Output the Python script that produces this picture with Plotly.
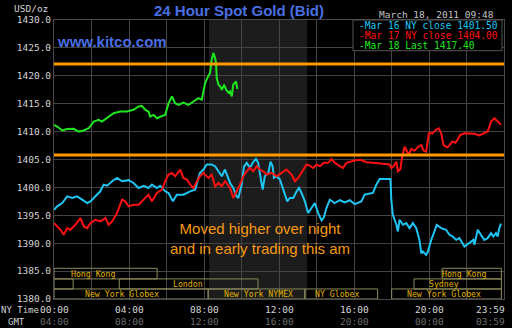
import plotly.graph_objects as go

# ---------------- data (hours NY time, USD/oz) ----------------
mar16_hours = [0, 0.17, 0.44, 0.70, 0.97, 1.23, 1.50, 1.77, 1.94, 2.21, 2.47, 2.65, 2.83, 3.10, 3.36, 3.63,
               3.98, 4.24, 4.51, 4.78, 5.04, 5.22, 5.49, 5.66, 5.93, 6.11, 6.34, 6.55, 6.90, 7.26, 7.53, 7.70,
               7.79, 7.97, 8.15, 8.41, 8.59, 8.77, 8.95, 9.12, 9.30, 9.39, 9.56, 9.74, 9.83, 10.01, 10.13, 10.28,
               10.45, 10.63, 10.77, 10.89, 11.02, 11.13, 11.24, 11.43, 11.55, 11.66, 11.73, 11.87, 12.05, 12.19,
               12.31, 12.44, 12.58, 12.76, 12.94, 13.07, 13.20, 13.38, 13.55, 13.73, 13.91, 14.09, 14.27, 14.39,
               14.53, 14.71, 14.97, 15.24, 15.51, 15.77, 16.04, 16.39, 16.57, 16.84, 17.01, 17.19, 17.37, 17.72,
               17.94, 17.99, 18.07, 18.26, 18.34, 18.43, 18.61, 18.79, 18.96, 19.14, 19.32, 19.49, 19.59, 19.67,
               19.85, 19.94, 20.12, 20.29, 20.41, 20.65, 20.91, 21.09, 21.27, 21.45, 21.62, 21.89, 22.15, 22.37,
               22.42, 22.60, 22.77, 22.95, 23.13, 23.31, 23.43, 23.57, 23.66, 23.75, 23.84]
mar16_values = [1396.0, 1396.6, 1397.2, 1398.4, 1398.1, 1398.4, 1397.8, 1397.2, 1397.5, 1398.4, 1399.3, 1400.5,
                1400.3, 1401.1, 1401.7, 1401.1, 1401.3, 1400.8, 1399.9, 1400.3, 1399.9, 1400.5, 1399.9, 1400.3,
                1399.3, 1399.0, 1397.5, 1398.7, 1398.7, 1399.3, 1399.6, 1401.7, 1402.6, 1403.2, 1404.1, 1404.1,
                1403.8, 1402.9, 1402.0, 1403.2, 1401.7, 1400.8, 1399.9, 1398.4, 1398.1, 1400.5, 1403.7, 1404.4,
                1403.5, 1404.6, 1405.1, 1404.4, 1401.7, 1399.6, 1402.0, 1402.6, 1404.6, 1403.8, 1401.7, 1402.0,
                1401.4, 1399.9, 1399.0, 1397.5, 1398.1, 1398.1, 1399.3, 1399.9, 1399.0, 1397.5, 1395.4, 1396.3,
                1397.2, 1395.4, 1394.1, 1394.6, 1396.3, 1397.8, 1397.2, 1397.7, 1397.3, 1397.7, 1397.0, 1397.5,
                1398.7, 1398.9, 1399.0, 1400.5, 1401.5, 1401.5, 1401.5, 1397.8, 1395.1, 1393.3, 1392.1, 1394.2,
                1393.3, 1393.6, 1392.7, 1393.6, 1392.7, 1390.6, 1388.2, 1388.5, 1387.9, 1388.5, 1390.6, 1392.1,
                1393.3, 1392.7, 1392.4, 1391.5, 1391.2, 1390.6, 1390.9, 1389.4, 1390.0, 1390.6, 1389.7, 1392.4,
                1391.5, 1390.6, 1390.9, 1391.8, 1391.2, 1391.8, 1391.2, 1392.7, 1393.5]

mar17_hours = [0, 0.17, 0.35, 0.52, 0.70, 0.88, 1.14, 1.41, 1.59, 1.77, 1.94, 2.21, 2.47, 2.74, 2.91, 3.10, 3.36,
               3.63, 3.80, 3.98, 4.24, 4.51, 4.78, 5.04, 5.22, 5.49, 5.76, 5.93, 6.11, 6.29, 6.46, 6.73, 6.90, 7.09,
               7.26, 7.44, 7.62, 7.79, 7.97, 8.23, 8.41, 8.59, 8.77, 8.95, 9.12, 9.39, 9.56, 9.74, 9.92, 10.10,
               10.28, 10.45, 10.63, 10.81, 10.98, 11.16, 11.34, 11.61, 11.87, 12.14, 12.40, 12.67, 12.85, 13.02,
               13.20, 13.47, 13.64, 13.82, 14.00, 14.18, 14.39, 14.62, 14.80, 14.97, 15.24, 15.41, 15.60, 15.86,
               16.13, 16.39, 16.66, 17.01, 17.37, 17.72, 17.90, 17.99, 18.11, 18.26, 18.34, 18.47, 18.57, 18.70,
               18.79, 18.93, 19.05, 19.23, 19.40, 19.59, 19.71, 19.85, 19.99, 20.20, 20.35, 20.52, 20.65, 20.77,
               20.95, 21.09, 21.23, 21.41, 21.53, 21.66, 21.89, 22.15, 22.42, 22.68, 22.95, 23.13, 23.31, 23.49,
               23.66, 23.84]
mar17_values = [1393.6, 1393.0, 1392.4, 1391.5, 1392.7, 1392.4, 1393.3, 1394.5, 1393.0, 1392.7, 1393.6, 1394.2,
                1393.9, 1394.5, 1393.3, 1393.9, 1395.4, 1397.8, 1397.5, 1396.6, 1396.9, 1396.9, 1397.8, 1398.7,
                1397.5, 1399.0, 1399.6, 1401.1, 1402.3, 1402.6, 1402.0, 1403.2, 1401.7, 1401.4, 1400.5, 1399.9,
                1401.1, 1402.0, 1402.6, 1401.7, 1402.3, 1400.2, 1400.8, 1400.2, 1401.1, 1399.9, 1398.1, 1399.3,
                1400.5, 1402.0, 1402.9, 1403.5, 1402.9, 1403.8, 1403.2, 1402.9, 1402.3, 1402.6, 1402.0, 1402.6,
                1403.2, 1402.3, 1401.1, 1401.7, 1402.6, 1404.1, 1403.9, 1403.5, 1404.1, 1403.8, 1404.4, 1404.4,
                1405.1, 1404.4, 1403.8, 1403.5, 1404.4, 1404.7, 1404.9, 1404.9, 1404.5, 1404.4, 1404.3, 1404.2,
                1404.1, 1403.5, 1403.8, 1404.6, 1402.9, 1403.2, 1405.5, 1407.3, 1406.6, 1405.8, 1406.9, 1406.6,
                1407.2, 1407.6, 1406.6, 1406.4, 1409.7, 1409.7, 1410.3, 1410.6, 1409.7, 1407.6, 1407.2, 1407.5,
                1408.2, 1408.0, 1408.6, 1409.4, 1409.7, 1409.6, 1409.6, 1409.3, 1409.7, 1410.0, 1411.8, 1412.4,
                1411.8, 1411.2]

mar18_hours = [0, 0.17, 0.44, 0.70, 1.05, 1.32, 1.59, 1.85, 2.12, 2.38, 2.56, 2.83, 3.18, 3.54, 3.89, 4.24, 4.51,
               4.69, 4.87, 5.04, 5.13, 5.31, 5.49, 5.76, 5.93, 6.11, 6.29, 6.46, 6.64, 6.90, 7.17, 7.44, 7.70, 7.88,
               8.06, 8.15, 8.32, 8.41, 8.50, 8.59, 8.64, 8.68, 8.77, 8.86, 8.95, 9.07, 9.18, 9.30, 9.39, 9.48, 9.56,
               9.71, 9.78]
mar18_values = [1411.2, 1410.9, 1410.2, 1410.45, 1410.5, 1410.0, 1410.2, 1410.6, 1411.8, 1412.1, 1411.8, 1412.4,
                1413.3, 1413.6, 1413.6, 1413.9, 1414.5, 1414.6, 1413.9, 1413.6, 1412.7, 1413.0, 1412.4, 1412.8,
                1413.0, 1415.1, 1416.3, 1415.1, 1414.8, 1415.2, 1414.8, 1415.4, 1416.0, 1415.7, 1418.7, 1419.4,
                1420.5, 1422.9, 1424.1, 1423.2, 1422.3, 1419.6, 1418.4, 1418.1, 1417.5, 1418.4, 1417.5, 1417.0,
                1417.2, 1416.3, 1418.4, 1419.0, 1417.6]

series_names = ["Mar 16 NY close 1401.50", "Mar 17 NY close 1404.00", "Mar 18 Last 1417.40"]
series_colors = ["#1ec4f2", "#ff1010", "#1ee61e"]

support_levels = [1422.1, 1405.8]          # hand-drawn orange lines
shaded_hours = [8.27, 13.5]                # highlighted trading window

ny_ticks = [0, 4, 8, 12, 16, 20, 24]
ny_labels = ["00:00", "04:00", "08:00", "12:00", "16:00", "20:00", "23:59"]
gmt_labels = ["04:00", "08:00", "12:00", "16:00", "20:00", "00:00", "03:59"]
y_ticks = [1380, 1385, 1390, 1395, 1400, 1405, 1410, 1415, 1420, 1425, 1430]

# sessions: name, row (1 = top), start hour, end hour, label centre hour
sess_names = ["Hong Kong", "", "London", "New York Globex", "New York NYMEX", "NY Globex",
              "New York Globex", "Hong Kong", "Sydney"]
sess_rows = [1, 2, 2, 3, 3, 3, 3, 1, 2]
sess_start = [0, 0, 3.48, 0, 8.22, 13.38, 18.01, 20.7, 19.2]
sess_end = [5.5, 1.02, 10.88, 8.22, 13.38, 17.26, 23.86, 23.86, 23.86]
sess_label = [2.1, 0.5, 7.13, 3.64, 10.88, 15.08, 20.82, 21.89, 20.82]
row_bounds = {1: (1383.6, 1385.5), 2: (1381.8, 1383.6), 3: (1380.0, 1381.8)}

# ---------------- figure ----------------
L, R, T, B, W, H = 54, 8, 20, 29, 512, 328
PW, PH = W - L - R, H - T - B


def px(x):
    return (x - L) / PW


def py(y):
    return (H - B - y) / PH


MONO = "DejaVu Sans Mono"
fig = go.Figure()
for hrs, vals, name, col in zip([mar16_hours, mar17_hours, mar18_hours],
                                [mar16_values, mar17_values, mar18_values],
                                series_names, series_colors):
    fig.add_trace(go.Scatter(x=hrs, y=vals, mode="lines", name=name,
                             line=dict(color=col, width=2), hoverinfo="skip"))

shapes = []
shapes.append(dict(type="rect", xref="x", yref="paper", x0=shaded_hours[0], x1=shaded_hours[1],
                   y0=0, y1=1, fillcolor="#1b1c1b", line=dict(width=0), layer="below"))
for lvl in support_levels:
    shapes.append(dict(type="line", xref="x", yref="y", x0=0, x1=24.1, y0=lvl, y1=lvl,
                       line=dict(color="#ff9a00", width=3), layer="above"))

annotations = []
for name, row, s, e, lab in zip(sess_names, sess_rows, sess_start, sess_end, sess_label):
    y0, y1 = row_bounds[row]
    shapes.append(dict(type="rect", xref="x", yref="y", x0=s, x1=e, y0=y0, y1=y1,
                       line=dict(color="#8c8a5c", width=1), fillcolor="rgba(0,0,0,0)", layer="above"))
    if name:
        annotations.append(dict(x=lab, y=(y0 + y1) / 2, xref="x", yref="y", text=name, showarrow=False,
                                font=dict(family=MONO, size=8.2, color="#e0b400"),
                                xanchor="center", yanchor="middle"))

# legend box
shapes.append(dict(type="rect", xref="paper", yref="paper", x0=px(353), x1=px(502), y0=py(50.7), y1=py(20),
                   fillcolor="#000000", line=dict(color="#555555", width=1), layer="above"))
for i, (name, col) in enumerate(zip(series_names, series_colors)):
    annotations.append(dict(x=px(357), y=py([25.7, 35.5, 45.5][i]), xref="paper", yref="paper",
                            text="-" + name, showarrow=False, xanchor="left", yanchor="middle",
                            font=dict(family=MONO, size=9.6, color=col)))

# x labels (placed in paper space so the last one may sit past the axis end)
for t, a, b in zip(ny_ticks, ny_labels, gmt_labels):
    xa = "center"
    xx = px(L + t * PW / 24)
    if t >= 24:
        xa = "right"
        xx = px(507)
    annotations.append(dict(x=xx, y=py(309.5), xref="paper", yref="paper", text=a, showarrow=False,
                            xanchor=xa, yanchor="middle", font=dict(family=MONO, size=9.5, color="#d4d4d4")))
    annotations.append(dict(x=xx, y=py(321.5), xref="paper", yref="paper", text=b, showarrow=False,
                            xanchor=xa, yanchor="middle", font=dict(family=MONO, size=9.5, color="#6e6e6e")))
annotations.append(dict(x=px(20), y=py(309.5), xref="paper", yref="paper", text="NY Time", showarrow=False,
                        xanchor="center", yanchor="middle", font=dict(family=MONO, size=9, color="#d4d4d4")))
annotations.append(dict(x=px(16.5), y=py(321.5), xref="paper", yref="paper", text="GMT", showarrow=False,
                        xanchor="center", yanchor="middle", font=dict(family=MONO, size=9, color="#d4d4d4")))

# titles / texts
annotations.append(dict(x=px(238.5), y=py(10.5), xref="paper", yref="paper",
                        text="<b>24 Hour Spot Gold (Bid)</b>",
                        showarrow=False, xanchor="center", yanchor="middle",
                        font=dict(family="Liberation Sans", size=15, color="#4a6fe3")))
annotations.append(dict(x=px(55), y=py(42), xref="paper", yref="paper", text="<b>www.kitco.com</b>",
                        showarrow=False, xanchor="left", yanchor="middle",
                        font=dict(family="Liberation Sans", size=15, color="#4a6fe3")))
annotations.append(dict(x=px(436), y=py(14), xref="paper", yref="paper", text="March 18, 2011 09:48",
                        showarrow=False, xanchor="center", yanchor="middle",
                        font=dict(family=MONO, size=9.5, color="#c4c4c4")))
annotations.append(dict(x=px(50), y=py(8.3), xref="paper", yref="paper", text="USD/oz",
                        showarrow=False, xanchor="right", yanchor="middle",
                        font=dict(family=MONO, size=9.5, color="#d4d4d4")))
annotations.append(dict(x=px(260), y=py(238), xref="paper", yref="paper",
                        text="Moved higher over night<br>and in early trading this am",
                        showarrow=False, xanchor="center", yanchor="middle", align="center",
                        font=dict(family="Liberation Sans", size=15, color="#f79a10")))

fig.update_layout(
    width=W, height=H, margin=dict(l=L, r=R, t=T, b=B, pad=0),
    paper_bgcolor="#000000", plot_bgcolor="#000000",
    showlegend=False, shapes=shapes, annotations=annotations,
    xaxis=dict(range=[0, 24], tickvals=list(range(0, 25, 2)), showticklabels=False, ticks="",
               showgrid=True, gridcolor="#444444", gridwidth=1, zeroline=False,
               showline=True, linecolor="#4a4a4a", mirror=True, fixedrange=True),
    yaxis=dict(range=[1380, 1430], tickvals=y_ticks, ticktext=["%.1f" % v for v in y_ticks], ticks="",
               tickfont=dict(family=MONO, size=9.5, color="#d4d4d4"),
               showgrid=True, gridcolor="#444444", gridwidth=1, zeroline=False,
               showline=True, linecolor="#4a4a4a", mirror=True, fixedrange=True),
)

fig.write_html("out.html", config={"displayModeBar": False})
